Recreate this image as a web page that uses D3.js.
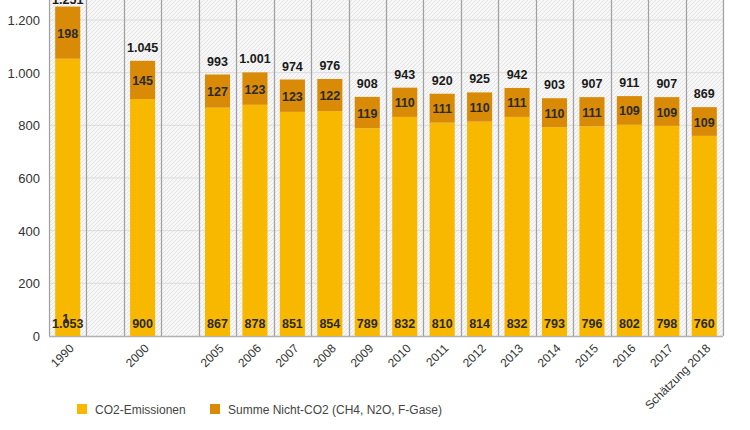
<!DOCTYPE html>
<html><head><meta charset="utf-8">
<script src="https://cdn.jsdelivr.net/npm/d3@7"></script>
<style>body{margin:0;background:#fff;font-family:"Liberation Sans",Arial,sans-serif}</style>
</head><body><svg id="c" width="750" height="430"></svg>
<script>
const slots = ["1990","g1","2000","g2","2005","2006","2007","2008","2009","2010","2011","2012","2013","2014","2015","2016","2017","Schätzung 2018"];
const years = ["1990","2000","2005","2006","2007","2008","2009","2010","2011","2012","2013","2014","2015","2016","2017","Schätzung 2018"];
const co2 = [1053,900,867,878,851,854,789,832,810,814,832,793,796,802,798,760];
const nonCo2 = [198,145,127,123,123,122,119,110,111,110,111,110,111,109,109,109];
const totals = [1251,1045,993,1001,974,976,908,943,920,925,942,903,907,911,907,869];
const yTicks = [0,200,400,600,800,1000,1200];
const legendLabels = ["CO2-Emissionen","Summe Nicht-CO2 (CH4, N2O, F-Gase)"];
const colors = ["#F9B800","#D98A06"];

const svg = d3.select("#c");
const L=49, R=723, T=0, B=336;
const x = d3.scaleBand().domain(slots).range([L,R]).paddingInner(0.33).paddingOuter(0.165);
const y = d3.scaleLinear().domain([0,1200]).range([B,20]);

const defs = svg.append("defs");
const pat = defs.append("pattern").attr("id","hatch").attr("patternUnits","userSpaceOnUse").attr("width",4).attr("height",4);
pat.append("rect").attr("width",4).attr("height",4).attr("fill","#f7f7f7");
pat.append("path").attr("d","M-1,1 l2,-2 M0,4 l4,-4 M3,5 l2,-2").attr("stroke","#e4e4e4").attr("stroke-width",1);
svg.append("rect").attr("x",L).attr("y",T).attr("width",R-L).attr("height",B-T).attr("fill","url(#hatch)");

svg.append("g").selectAll("line").data(yTicks.slice(1)).join("line")
  .attr("x1",L).attr("x2",R).attr("y1",d=>y(d)).attr("y2",d=>y(d))
  .attr("stroke","#dcdcdc").attr("stroke-width",1);

const bounds = d3.range(slots.length+1).map(i=>L+i*(R-L)/slots.length);
svg.append("g").selectAll("line").data(bounds).join("line")
  .attr("x1",d=>Math.round(d)+0.5).attr("x2",d=>Math.round(d)+0.5).attr("y1",T).attr("y2",B)
  .attr("stroke","#a0a0a0").attr("stroke-width",1.2);

svg.append("line").attr("x1",L).attr("x2",R).attr("y1",B+0.5).attr("y2",B+0.5).attr("stroke","#b0b0b0").attr("stroke-width",1.5);

svg.append("g").selectAll("text").data(yTicks).join("text")
  .attr("x",40).attr("y",d=>y(d)+5).attr("text-anchor","end")
  .attr("font-size",13).attr("fill","#333")
  .text(d=>d3.format(",")(d).replace(/,/g,"."));

const fmt = d=>d3.format(",")(d).replace(/,/g,".");
const g = svg.append("g");
years.forEach((yr,i)=>{
  const bx = x(yr), bw = x.bandwidth();
  g.append("rect").attr("x",bx).attr("width",bw).attr("y",y(co2[i])).attr("height",y(0)-y(co2[i])).attr("fill",colors[0]);
  g.append("rect").attr("x",bx).attr("width",bw).attr("y",y(totals[i])).attr("height",y(co2[i])-y(totals[i])).attr("fill",colors[1]);
  const cx = bx+bw/2;
  g.append("text").attr("x",cx).attr("y",y(0)-8).attr("text-anchor","middle").attr("font-size",12.5).attr("font-weight","bold").attr("fill","#2a2a2a").text(fmt(co2[i]));
  g.append("text").attr("x",cx).attr("y",(y(co2[i])+y(totals[i]))/2+5).attr("text-anchor","middle").attr("font-size",12.5).attr("font-weight","bold").attr("fill","#2a2a2a").text(nonCo2[i]);
  g.append("text").attr("x",cx).attr("y",Math.max(4,y(totals[i])-9)).attr("text-anchor","middle").attr("font-size",12.5).attr("font-weight","bold").attr("fill","#1a1a1a").text(fmt(totals[i]));
});
g.append("text").attr("x",x("1990")+x.bandwidth()/2-2).attr("y",y(0)-13).attr("text-anchor","middle").attr("font-size",12.5).attr("font-weight","bold").attr("fill","#2a2a2a").text("1");

svg.append("g").selectAll("text").data(years).join("text")
  .attr("transform",d=>`translate(${x(d)+x.bandwidth()/2+7},${B+13}) rotate(-45)`)
  .attr("text-anchor","end").attr("font-size",12).attr("fill","#333").text(d=>d);

const lg = svg.append("g");
[[77,95],[210,228]].forEach((p,i)=>{
  lg.append("rect").attr("x",p[0]).attr("y",404).attr("width",10).attr("height",10).attr("fill",colors[i]);
  lg.append("text").attr("x",p[1]).attr("y",414).attr("font-size",12).attr("fill","#444").text(legendLabels[i]);
});
</script></body></html>
